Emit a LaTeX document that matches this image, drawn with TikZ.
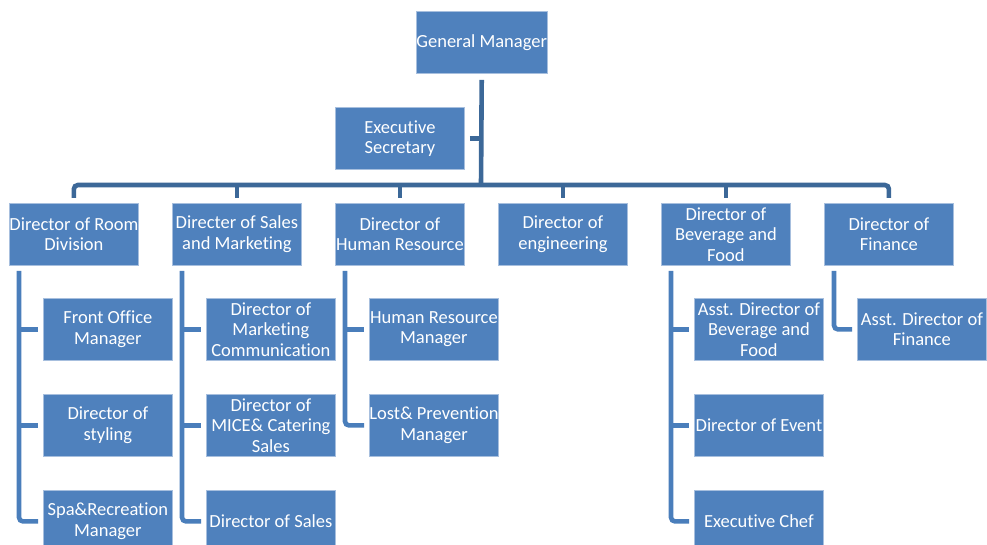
\documentclass[tikz,border=0pt]{standalone}
\usepackage{fontspec}
\setmainfont{Carlito}[Ligatures={NoCommon}]
\definecolor{boxblue}{HTML}{4F81BD}
\definecolor{boxedge}{HTML}{A7BFDE}
\definecolor{busblue}{HTML}{3C6898}
\definecolor{subblue}{HTML}{4A7EBB}
\begin{document}
\begin{tikzpicture}[x=1pt,y=-1pt,
  orgbox/.style={draw=boxedge, line width=0.8pt, fill=boxblue, text=white,
    minimum width=129pt, minimum height=62pt, inner sep=0pt, align=center,
    anchor=north west, font=\fontsize{18.5pt}{20.5pt}\selectfont},
  busline/.style={draw=busblue, line width=4.6pt, rounded corners=4pt},
  subline/.style={draw=subblue, line width=4.6pt, rounded corners=4pt}]
\clip (0,0) rectangle (987,545);
\fill[white] (0,0) rectangle (987,545);
% top
\node[orgbox] (gm) at (416,11) {General Manager};
\node[orgbox] (es) at (335,107) {Executive\\Secretary};
% directors
\node[orgbox] (room)  at (9,203)   {Director of Room\\Division};
\node[orgbox] (sales) at (172,203) {Directer of Sales\\and Marketing};
\node[orgbox] (hr)    at (335,203) {Director of\\Human Resource};
\node[orgbox] (eng)   at (498,203) {Director of\\engineering};
\node[orgbox] (bev)   at (661,203) {Director of\\Beverage and\\Food};
\node[orgbox] (fin)   at (824,203) {Director of\\Finance};
% room
\node[orgbox] (fo)   at (43,298) {Front Office\\Manager};
\node[orgbox] (sty)  at (43,394) {Director of\\styling};
\node[orgbox] (spa)  at (43,490) {Spa\&Recreation\\Manager};
% sales
\node[orgbox] (mc)   at (206,298) {Director of\\Marketing\\Communication};
\node[orgbox] (mice) at (206,394) {Director of\\MICE\& Catering\\Sales};
\node[orgbox] (ds)   at (206,490) {Director of Sales};
% hr
\node[orgbox] (hrm)  at (369,298) {Human Resource\\Manager};
\node[orgbox] (lpm)  at (369,394) {Lost\& Prevention\\Manager};
% bev
\node[orgbox] (abf)  at (694,298) {Asst. Director of\\Beverage and\\Food};
\node[orgbox] (ev)   at (694,394) {Director of Event};
\node[orgbox] (chef) at (694,490) {Executive Chef};
% fin
\node[orgbox] (afin) at (857,298) {Asst. Director of\\Finance};

% bus
\coordinate (bus) at (481,185);
\draw[busline] ([yshift=-6pt]gm.south) -- (bus);
\draw[busline] ([xshift=5pt]es.east) -- (es.east -| bus);
\draw[busline] ([yshift=5pt]room.north) |- (bus) -| ([yshift=5pt]fin.north);
\foreach \d in {sales,hr,eng,bev}
  \draw[busline, rounded corners=0pt] ([yshift=5pt]\d.north) -- (\d.north |- bus);

% sub connectors
\coordinate (rv) at ([xshift=10pt,yshift=-5pt]room.south west);
\draw[subline] (rv) |- ([xshift=-5pt]spa.west);
\foreach \s in {fo,sty}
  \draw[subline, rounded corners=0pt] (\s.west -| rv) -- ([xshift=-5pt]\s.west);

\coordinate (sv) at ([xshift=10pt,yshift=-5pt]sales.south west);
\draw[subline] (sv) |- ([xshift=-5pt]ds.west);
\foreach \s in {mc,mice}
  \draw[subline, rounded corners=0pt] (\s.west -| sv) -- ([xshift=-5pt]\s.west);

\coordinate (hv) at ([xshift=10pt,yshift=-5pt]hr.south west);
\draw[subline] (hv) |- ([xshift=-5pt]lpm.west);
\draw[subline, rounded corners=0pt] (hrm.west -| hv) -- ([xshift=-5pt]hrm.west);

\coordinate (bv) at ([xshift=10pt,yshift=-5pt]bev.south west);
\draw[subline] (bv) |- ([xshift=-5pt]chef.west);
\foreach \s in {abf,ev}
  \draw[subline, rounded corners=0pt] (\s.west -| bv) -- ([xshift=-5pt]\s.west);

\coordinate (fv) at ([xshift=10pt,yshift=-5pt]fin.south west);
\draw[subline] (fv) |- ([xshift=-5pt]afin.west);
\end{tikzpicture}
\end{document}
